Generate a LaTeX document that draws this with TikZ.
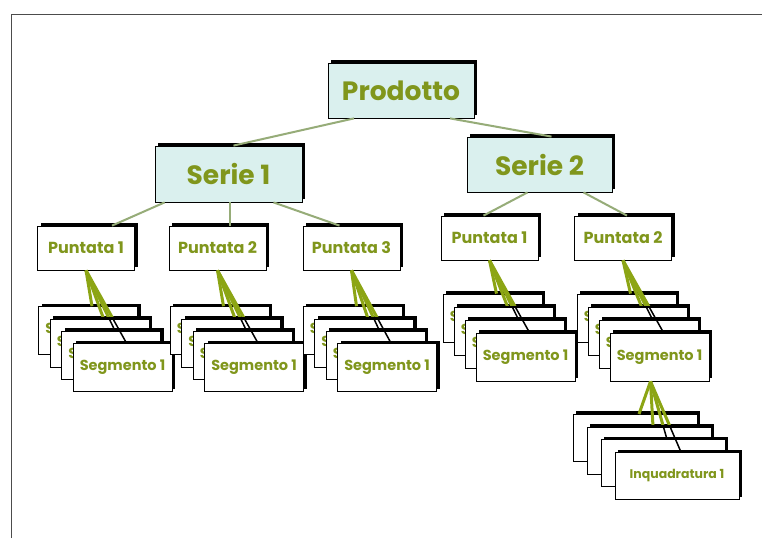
\documentclass[tikz,border=0pt]{standalone}
\usepackage{fontspec}
\setmainfont{Poppins}
\usetikzlibrary{calc,shadows}

\definecolor{txtgreen}{RGB}{128,150,28}
\definecolor{linkgreen}{RGB}{150,172,120}
\definecolor{fangreen}{RGB}{140,165,20}
\definecolor{headfill}{RGB}{218,240,238}

\tikzset{
  boxshadow/.style={drop shadow={shadow xshift=3pt,shadow yshift=3pt,fill=black,opacity=1}},
  headbox/.style={draw=black,line width=0.8pt,fill=headfill,boxshadow,inner sep=0pt,
    text=txtgreen,font=\fontsize{26.5}{30}\selectfont\bfseries},
  epbox/.style={draw=black,line width=0.8pt,fill=white,boxshadow,inner sep=0pt,
    minimum width=97pt,minimum height=44pt,text=txtgreen,font=\fontsize{16}{18}\selectfont\bfseries},
  segbox/.style={draw=black,line width=0.8pt,fill=white,boxshadow,inner sep=0pt,
    minimum width=99pt,minimum height=48pt,text=txtgreen,font=\fontsize{14.5}{16}\selectfont\bfseries},
  shotbox/.style={segbox,minimum width=124pt,minimum height=47pt,font=\fontsize{12.5}{14}\selectfont\bfseries},
  treelink/.style={linkgreen,line width=2pt},
  fanblack/.style={black,line width=1.5pt},
  fangreenline/.style={fangreen,line width=3pt},
  frameline/.style={black!70,line width=1pt}
}

% a pile of four boxes: name, style, text, front centre x, front centre y, step x, step y
\newcommand\boxpile[7]{%
  \foreach \k/\d in {1/-3,2/-2,3/-1,4/0}
    \node[#2] (#1\k) at ({#4+\d*#6},{#5+\d*#7}) {#3};
}
% fan of links from a parent anchor to the tops of a pile
\newcommand\pilefan[3]{% source point, pile name, clip bottom y
  \foreach \k in {1,...,4}
    \draw[fanblack] #1 -- ($(#2\k.north)+(4,0)$);
  \begin{scope}
    \clip (0,0) rectangle (762,#3);
    \foreach \k in {1,...,4}
      \draw[fangreenline] #1 -- ($(#2\k.north)+(4,0)$);
  \end{scope}
}

\begin{document}
\begin{tikzpicture}[x=1pt,y=-1pt]
\useasboundingbox (0,0) rectangle (762,538);
\fill[white] (0,0) rectangle (762,538);

% page frame
\draw[frameline] (11,538) -- (11,14) -- (762,14);

% hierarchy heads
\node[headbox,minimum width=146pt,minimum height=55pt] (prod) at (401,90.5) {Prodotto};
\node[headbox,minimum width=147pt,minimum height=56pt] (serie1) at (228.5,174) {Serie 1};
\node[headbox,minimum width=145pt,minimum height=55pt] (serie2) at (539.5,164.5) {Serie 2};

% episodes
\node[epbox] (p1) at (86,248) {Puntata 1};
\node[epbox] (p2) at (217.5,248) {Puntata 2};
\node[epbox] (p3) at (351.5,248) {Puntata 3};
\node[epbox] (q1) at (489.5,238) {Puntata 1};
\node[epbox] (q2) at (623,238) {Puntata 2};

% tree links
\draw[treelink] ($(prod.south)+(-47,0)$) -- ($(serie1.north)+(5,0)$);
\draw[treelink] ($(prod.south)+(49,0)$) -- ($(serie2.north)+(12,0)$);
\draw[treelink] ($(serie1.south west)+(10,0)$) -- ($(p1.north)+(26,0)$);
\draw[treelink] ($(serie1.south)+(1,0)$) -- ($(p2.north)+(12,0)$);
\draw[treelink] ($(serie1.south)+(45,0)$) -- ($(p3.north)+(-12,0)$);
\draw[treelink] ($(serie2.south)+(-12,0)$) -- ($(q1.north)+(-6,0)$);
\draw[treelink] ($(serie2.south)+(44,0)$) -- ($(q2.north)+(4,0)$);

% segment piles
\boxpile{sa}{segbox}{Segmento 1}{122.5}{367.5}{11.5}{12.3}
\boxpile{sb}{segbox}{Segmento 1}{254}{367.5}{11.5}{12.3}
\boxpile{sc}{segbox}{Segmento 1}{387}{367.5}{11.5}{12.3}
\boxpile{sd}{segbox}{Segmento 1}{525.5}{357}{11}{13}
\boxpile{se}{segbox}{Segmento 1}{659.5}{357}{11}{13}

% shot pile
\boxpile{sf}{shotbox}{Inquadratura 1}{677}{476}{14}{12.7}

% fans from each parent to its pile
\pilefan{(p1.south)}{sa}{316}
\pilefan{(p2.south)}{sb}{316}
\pilefan{(p3.south)}{sc}{316}
\pilefan{(q1.south)}{sd}{305}
\pilefan{(q2.south)}{se}{305}
\pilefan{($(se4.south)+(-9,0)$)}{sf}{424}
\end{tikzpicture}
\end{document}
